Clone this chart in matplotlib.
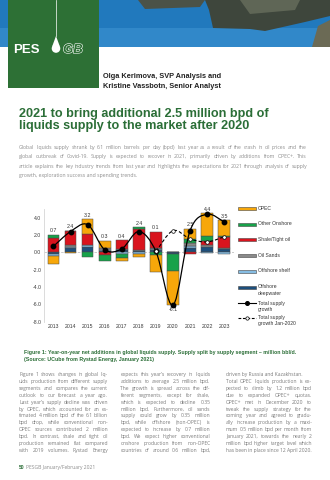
import math
import numpy as np
import matplotlib
matplotlib.use("Agg")
import matplotlib.pyplot as plt
from matplotlib.patches import Rectangle, Circle, Polygon, PathPatch
from matplotlib.path import Path
import matplotlib.patheffects as pe

# chart data (million bbl/d), stacked from the zero line outwards
years = [2013, 2014, 2015, 2016, 2017, 2018, 2019, 2020, 2021, 2022, 2023]
deepwater = [-0.25, 0.5, 0.6, 0.2, 0.3, 0.2, 0.25, -0.15, 0.45, 0.6, 0.35]
shelf = [-0.15, 0.15, 0.2, 0.1, -0.2, -0.15, 0.1, -0.1, 0.25, -0.1, -0.2]
oil_sands = [0.0, 0.2, 0.1, 0.15, 0.1, 0.1, 0.1, 0.0, 0.35, 0.25, 0.2]
shale = [1.7, 1.65, 1.2, -0.35, 1.0, 2.35, 1.95, 0.0, -0.25, 0.5, 1.2]
onshore = [0.3, 0.0, -0.6, -0.65, -0.5, 0.25, -0.35, -1.9, 0.45, 0.55, 0.1]
opec = [-0.9, -0.1, 1.7, 0.85, -0.3, -0.35, -1.95, -3.95, 1.25, 2.6, 1.85]
totals = [0.7, 2.4, 3.2, 0.3, 0.4, 2.4, 0.1, -6.1, 2.5, 4.4, 3.5]
fc_years = [2019, 2020, 2021, 2022, 2023]
fc_totals = [0.1, 2.5, 1.55, 1.2, 1.8]

seg_values = [deepwater, shelf, oil_sands, shale, onshore, opec]
seg_colors = ["#1d4f7c", "#86bde3", "#8a8a8a", "#d9141e", "#17a24a", "#f7a70a"]
legend_labels = ["OPEC", "Other Onshore", "Shale/Tight oil", "Oil Sands", "Offshore shelf",
                 "Offshore\ndeepwater", "Total supply\ngrowth", "Total supply\ngrowth Jan-2020"]

title_lines = ["2021 to bring additional 2.5 million bpd of",
               "liquids supply to the market after 2020"]
authors = ["Olga Kerimova, SVP Analysis and", "Kristine Vassbotn, Senior Analyst"]
intro = ["Global liquids supply shrank by 6.1 million barrels per day (bpd) last year as a result of the crash in oil prices and the",
         "global outbreak of Covid-19. Supply is expected to recover in 2021, primarily driven by additions from OPEC+. This",
         "article explains the key industry trends from last year and highlights the expectations for 2021 through analysis of supply",
         "growth, exploration success and spending trends."]
caption = ["Figure 1: Year-on-year net additions in global liquids supply. Supply split by supply segment \u2013 million bbl/d.",
           "(Source: UCube from Rystad Energy, January 2021)"]
col1 = ["Figure 1 shows changes in global liq-",
        "uids production from different supply",
        "segments and compares the current",
        "outlook to our forecast a year ago.",
        "Last year\u2019s supply decline was driven",
        "by OPEC, which accounted for an es-",
        "timated 4 million bpd of the 6.1 billion",
        "bpd drop, while conventional non-",
        "OPEC sources contributed 2 million",
        "bpd. In contrast, shale and tight oil",
        "production remained flat compared",
        "with 2019 volumes. Rystad Energy"]
col2 = ["expects this year\u2019s recovery in liquids",
        "additions to average 2.5 million bpd.",
        "The growth is spread across the dif-",
        "ferent segments, except for shale,",
        "which is expected to decline 0.35",
        "million bpd. Furthermore, oil sands",
        "supply could grow by 0.35 million",
        "bpd, while offshore (non-OPEC) is",
        "expected to increase by 0.7 million",
        "bpd. We expect higher conventional",
        "onshore production from non-OPEC",
        "countries of around 0.6 million bpd,"]
col3 = ["driven by Russia and Kazakhstan.",
        "Total OPEC liquids production is ex-",
        "pected to climb by 1.2 million bpd",
        "due to expanded OPEC+ quotas.",
        "OPEC+ met in December 2020 to",
        "tweak the supply strategy for the",
        "coming year and agreed to gradu-",
        "ally increase production by a maxi-",
        "mum 0.5 million bpd per month from",
        "January 2021, towards the nearly 2",
        "million bpd higher target level which",
        "has been in place since 12 April 2020."]

GREEN = "#2b6e37"
BODY = "#7d7d7d"
BODY_FONT = "Open Sans"

fig = plt.figure(figsize=(3.3, 4.8), dpi=100)
page = fig.add_axes([0, 0, 1, 1])
page.set_xlim(0, 330)
page.set_ylim(480, 0)
page.axis("off")
renderer = fig.canvas.get_renderer()


def text_width(s, size, weight="normal", family=BODY_FONT):
    t = page.text(0, 0, s, fontsize=size, fontweight=weight, family=family)
    w = t.get_window_extent(renderer).width
    t.remove()
    return w


def fit_size(lines, width, weight="normal", family=BODY_FONT):
    # largest size at which the longest justified line still fits
    return min(10 * width / text_width(s, 10, weight, family) for s in lines)


def snap(t, yb):
    # keep every word of a line on the same pixel baseline (agg rounds per word)
    w, h, d = renderer.get_text_width_height_descent(t.get_text(), t.get_fontproperties(), False)
    t.set_y(yb + math.trunc(h) - math.trunc(h - d) - d)


def put_line(x, y, s, width, size, color, weight="normal", family=BODY_FONT, justify=True):
    yb = round(y + 0.33 * size * 100 / 72)  # centre -> baseline
    words = s.split(" ")
    if not justify or len(words) == 1:
        t = page.text(x, yb, s, fontsize=size, color=color, fontweight=weight,
                      family=family, va="baseline", ha="left")
        snap(t, yb)
        return
    ts = [page.text(x, yb, w, fontsize=size, color=color, fontweight=weight,
                    family=family, va="baseline", ha="left") for w in words]
    widths = [t.get_window_extent(renderer).width for t in ts]
    gap = (width - sum(widths)) / (len(words) - 1)
    cx = x
    for t, w in zip(ts, widths):
        t.set_x(cx)
        snap(t, yb)
        cx += w + gap


# header photo (sea and cliffs), roughly
page.add_patch(Rectangle((0, 0), 330, 47, color="#2179bd", lw=0))
page.add_patch(Rectangle((0, 28), 330, 19, color="#3d93d2", lw=0, alpha=0.6))
page.add_patch(Polygon([(138, 0), (205, 0), (200, 7), (145, 9)], color="#4b5247", lw=0))
page.add_patch(Polygon([(205, 0), (330, 0), (330, 16), (305, 22), (265, 31), (250, 29),
                        (213, 28), (209, 10)], color="#3e463c", lw=0))
page.add_patch(Polygon([(240, 0), (300, 0), (295, 10), (250, 14)], color="#5f6656", lw=0))
page.add_patch(Polygon([(318, 26), (330, 20), (330, 47), (312, 47)], color="#6b6a55", lw=0))

# logo box
page.add_patch(Rectangle((8, 0), 91, 88, color="#2d7035", lw=0, zorder=3))
page.text(13, 53, "PES", fontsize=9.5, color="white", fontweight="bold",
          family="Liberation Sans", va="baseline", zorder=4)
page.plot([56, 56], [0, 36], color="white", lw=0.5, zorder=4)
page.add_patch(Circle((56, 48.5), 4.3, color="white", lw=0, zorder=4))
page.add_patch(Polygon([(56, 36), (52.1, 46.6), (59.9, 46.6)], color="white", lw=0, zorder=4))
page.text(63, 53, "GB", fontsize=9.5, color="#2d7035", fontweight="bold", fontstyle="italic",
          family="Liberation Sans", va="baseline", zorder=4,
          path_effects=[pe.Stroke(linewidth=0.8, foreground="white"), pe.Normal()])

for i, s in enumerate(authors):
    page.text(103, 76 + i * 10, s, fontsize=5.3, color="#222222", fontweight="bold",
              family="Liberation Sans", va="center")

for i, s in enumerate(title_lines):
    page.text(19, 116.7 + i * 12.8, s, fontsize=9.1, color=GREEN, fontweight="bold",
              family="Liberation Sans", va="baseline")

fs_intro = fit_size(intro[:-1], 288)
for i, s in enumerate(intro):
    put_line(19, 147.7 + i * 9.1, s, 288, fs_intro, "#8f8f8f", justify=i < len(intro) - 1)

for i, s in enumerate(caption):
    page.text(24, 352.3 + i * 6.8, s, fontsize=3.75, color=GREEN, fontweight="bold",
              family="Liberation Sans", va="center")

fs_body = fit_size(col1 + col2 + col3[1:-1], 89)
for cx, col, w, last_left in [(19, col1, 89, False), (120.5, col2, 90, False),
                              (226, col3, 86, True)]:
    for i, s in enumerate(col):
        just = not (last_left and (i == 0 or i == len(col) - 1))
        put_line(cx, 374 + i * 6.97, s, w, fs_body, BODY, justify=just)

page.text(19, 467.7, "50", fontsize=3.6, color=GREEN, fontweight="bold",
          family="Liberation Sans", va="center")
page.text(26, 467.7, "PESGB January/February 2021", fontsize=3.6, color="#8c8c8c",
          family=BODY_FONT, va="center")

# legend
rows = [208.3, 224, 239.5, 255.5, 271, 287.3, 303.3, 318.3]
for lab, y, c in zip(legend_labels[:6], rows[:6], seg_colors[::-1]):
    page.add_patch(Rectangle((238.3, y - 1.5), 17.4, 3.0, facecolor=c,
                             edgecolor="#444444", lw=0.4))
page.plot([238.3, 255.7], [rows[6], rows[6]], color="black", lw=0.8)
page.plot([247], [rows[6]], "o", ms=2.6, color="black")
page.plot([238.3, 255.7], [rows[7], rows[7]], color="black", lw=0.8, ls=(0, (2.5, 1.5)))
page.plot([247], [rows[7]], "o", ms=2.4, mfc="white", mec="black", mew=0.5)
for lab, y in zip(legend_labels, rows):
    page.text(257.5, y - 2.8, lab, fontsize=3.6, color="#333333", family="Liberation Sans",
              va="top", linespacing=1.25)

# chart
ax = fig.add_axes([44.1 / 330, 1 - 321.5 / 480, 189.5 / 330, 112.45 / 480])
ax.patch.set_alpha(0)
ax.set_xlim(2012.45, 2023.55)
ax.set_ylim(-8, 5)
ax.axhline(0, color="#c4c4c4", lw=0.6, ls=(0, (3, 2)), zorder=0)

pos_base = np.zeros(len(years))
neg_base = np.zeros(len(years))
for vals, c in zip(seg_values, seg_colors):
    v = np.array(vals)
    bottom = np.where(v >= 0, pos_base, neg_base)
    ax.bar(years, v, bottom=bottom, width=0.685, color=c, edgecolor="#4a4a4a",
           linewidth=0.35, zorder=2)
    pos_base += np.where(v >= 0, v, 0)
    neg_base += np.where(v < 0, v, 0)


def smooth_path(xs, ys):
    pts = np.column_stack([xs, ys]).astype(float)
    verts = [pts[0]]
    codes = [Path.MOVETO]
    for i in range(len(pts) - 1):
        p0 = pts[i - 1] if i > 0 else pts[i]
        p1, p2 = pts[i], pts[i + 1]
        p3 = pts[i + 2] if i + 2 < len(pts) else p2
        verts += [p1 + (p2 - p0) / 6, p2 - (p3 - p1) / 6, p2]
        codes += [Path.CURVE4] * 3
    return Path(verts, codes)


ax.add_patch(PathPatch(smooth_path(years, totals), fill=False, edgecolor="black",
                       lw=0.9, zorder=4))
ax.add_patch(PathPatch(smooth_path(fc_years, fc_totals), fill=False, edgecolor="black",
                       lw=0.8, ls=(0, (3, 2)), zorder=4))
ax.plot(years, totals, "o", ms=3.2, color="black", zorder=5)
ax.plot(fc_years, fc_totals, "o", ms=2.6, mfc="white", mec="black", mew=0.5, zorder=5)

for x, t, top, bot in zip(years, totals, pos_base, neg_base):
    if t < 0:
        ax.annotate(f"{t:.1f}", (x, bot), xytext=(0, -1.5), textcoords="offset points",
                    ha="center", va="top", fontsize=3.8, color="#333333",
                    family="Liberation Sans")
    else:
        ax.annotate(f"{t:.1f}", (x, top), xytext=(0, 1.2), textcoords="offset points",
                    ha="center", va="bottom", fontsize=3.8, color="#333333",
                    family="Liberation Sans")

ax.set_xticks(years)
ax.set_xticklabels([str(y) for y in years], family="Liberation Sans")
ax.set_yticks([-8, -6, -4, -2, 0, 2, 4])
ax.set_yticklabels([f"{v:.1f}" for v in [-8, -6, -4, -2, 0, 2, 4]], family="Liberation Sans")
ax.tick_params(length=0, labelsize=3.7, colors="#3a3a3a", pad=2)
for s in ["top", "right", "bottom"]:
    ax.spines[s].set_visible(False)
ax.spines["left"].set_color("#d6d6d6")
ax.spines["left"].set_linewidth(0.6)

fig.savefig("out.png", dpi=100)
